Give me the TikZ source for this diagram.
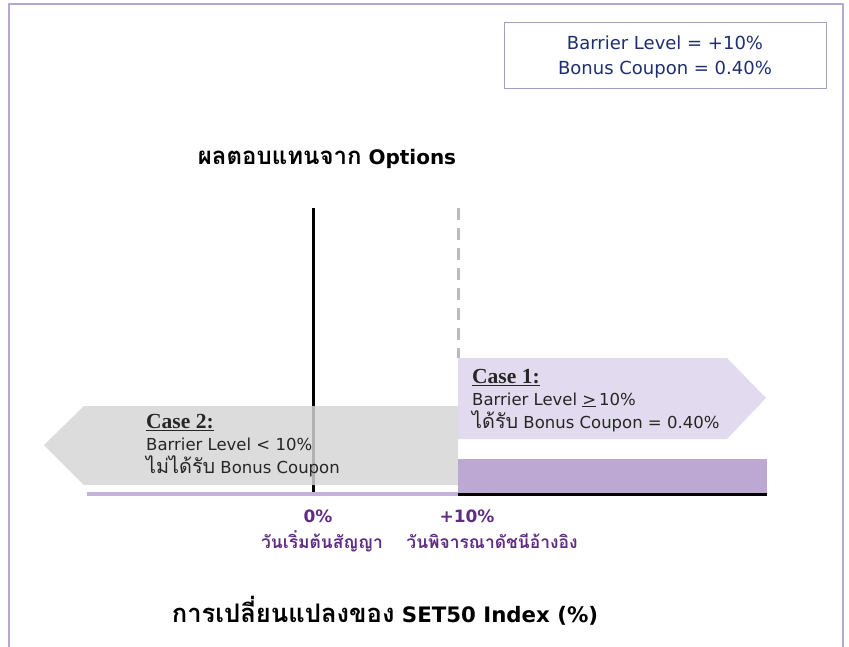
\documentclass[tikz,border=0pt]{standalone}
\usepackage{fontspec}
\setmainfont{DejaVu Sans}
\newfontfamily\thaifont[Script=Thai,Scale=1.2]{Loma}
\newfontfamily\casefont{Liberation Serif}
\usetikzlibrary{arrows.meta}
\definecolor{framecol}{HTML}{B5A6D2}
\definecolor{boxline}{HTML}{A99CC2}
\definecolor{navytext}{HTML}{1F2F6E}
\definecolor{labelpurple}{HTML}{5F2C82}
\definecolor{caseonefill}{HTML}{E2DAEE}
\definecolor{casetwofill}{HTML}{D5D5D5}
\definecolor{barfill}{HTML}{BDA8D3}
\definecolor{axiscol}{HTML}{C4B2DB}
\definecolor{dashcol}{HTML}{BBBBBB}
\definecolor{casetext}{HTML}{262626}
\tikzset{
  every picture/.style={line join=round, >=Stealth},
  every node/.style={inner sep=0pt},
  paramtext/.style={anchor=base, text=navytext, font=\fontsize{18}{22}\selectfont},
  caseline/.style={anchor=base west, text=casetext, font=\fontsize{16.5}{22}\selectfont},
  casehead/.style={anchor=base west, text=casetext, font=\casefont\bfseries\fontsize{21.5}{24}\selectfont},
  ticktext/.style={anchor=base, text=labelpurple, font=\bfseries\fontsize{17}{20}\selectfont},
  datetext/.style={anchor=base, text=labelpurple, font=\thaifont\bfseries\fontsize{14.5}{18}\selectfont},
  titletext/.style={anchor=base, text=black, font=\bfseries\fontsize{20}{24}\selectfont},
}

\begin{document}
\begin{tikzpicture}[x=1pt,y=-1pt]
\useasboundingbox (0,0) rectangle (849,647);
\draw[framecol,line width=1.5pt](9,647)--(9,4)--(843,4)--(843,647);
\node[draw=boxline,line width=1pt,minimum width=322pt,minimum height=66pt] (params) at (665,56) {};
\node[paramtext] (barrier) at (665,50) {Barrier Level = +10\%};
\node[paramtext] (coupon) at (665,75) {Bonus Coupon = 0.40\%};
\node[titletext] (optitle) at (327,165) {{\thaifont ผลตอบแทนจาก} Options};
\draw[black,line width=3pt](313,208)--(313,494);
\draw[dashcol,line width=3pt,dash pattern=on 12pt off 8pt](458,208)--(458,358);
\fill[caseonefill](458,358)--(727,358)--(766,398)--(727,439)--(458,439)--cycle;
\fill[casetwofill,fill opacity=0.83](458,406)--(84,406)--(44,445)--(84,485)--(458,485)--cycle;
\fill[barfill](458,459) rectangle (767,494);
\draw[axiscol,line width=4pt](87,494)--(458,494);
\draw[black,line width=3pt](458,494.5)--(767,494.5);
\node[casehead] (caseone) at (472,383) {\underline{Case 1:}};
\node[caseline] (caseonea) at (472,405) {Barrier Level \underline{>}\,10\%};
\node[caseline] (caseoneb) at (472,428) {{\thaifont ได้รับ} Bonus Coupon = 0.40\%};
\node[casehead] (casetwo) at (146,428) {\underline{Case 2:}};
\node[caseline] (casetwoa) at (146,450) {Barrier Level < 10\%};
\node[caseline] (casetwob) at (146,473) {{\thaifont ไม่ได้รับ} Bonus Coupon};
\node[ticktext] (zero) at (318,522) {0\%};
\node[datetext] (startdate) at (322,548) {วันเริ่มต้นสัญญา};
\node[ticktext] (ten) at (467,522) {+10\%};
\node[datetext] (refdate) at (492,548) {วันพิจารณาดัชนีอ้างอิง};
\node[titletext,font=\bfseries\fontsize{21.3}{26}\selectfont] (xtitle) at (385,622) {{\thaifont การเปลี่ยนแปลงของ} SET50 Index (\%)};
\end{tikzpicture}
\end{document}
